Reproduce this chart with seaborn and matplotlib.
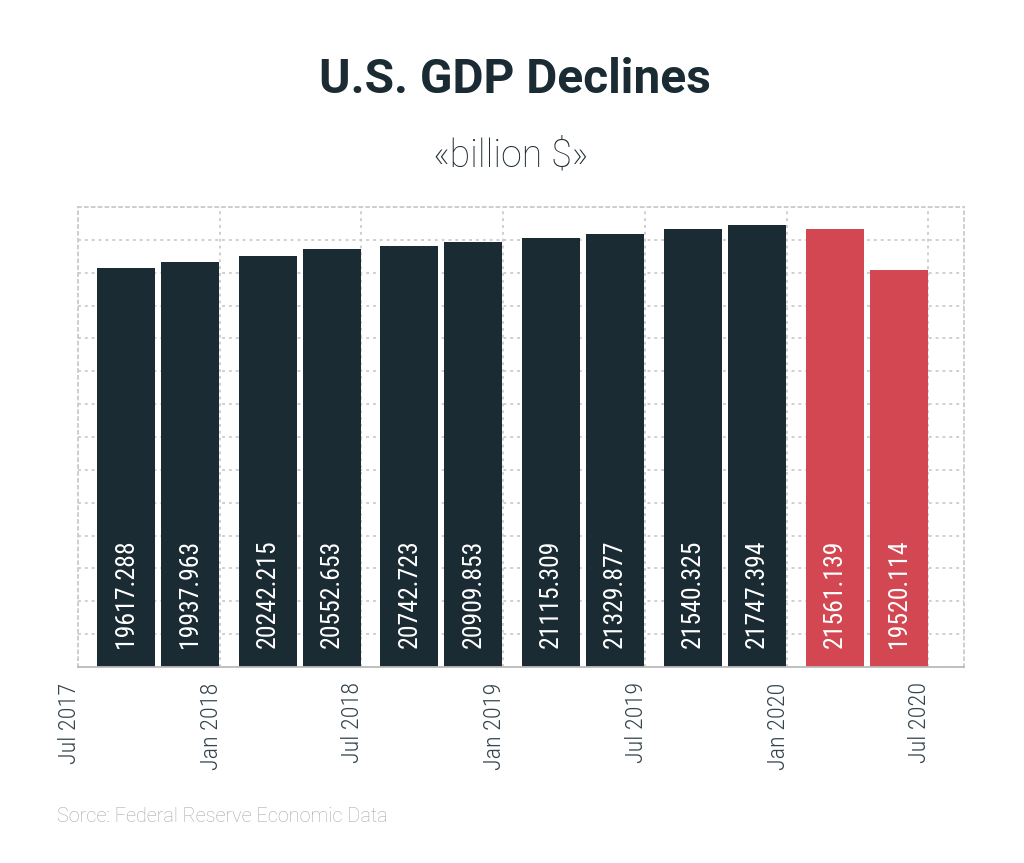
import matplotlib
matplotlib.use("Agg")
import matplotlib.pyplot as plt
import matplotlib.transforms as mtransforms
import seaborn as sns
import pandas as pd
import numpy as np

# ---- data ----
quarters = ["2017-07-01", "2017-10-01", "2018-01-01", "2018-04-01",
            "2018-07-01", "2018-10-01", "2019-01-01", "2019-04-01",
            "2019-07-01", "2019-10-01", "2020-01-01", "2020-04-01"]
gdp = [19617.288, 19937.963, 20242.215, 20552.653,
       20742.723, 20909.853, 21115.309, 21329.877,
       21540.325, 21747.394, 21561.139, 19520.114]
decline = [False] * 10 + [True, True]
tick_labels = ["Jul 2017", "Jan 2018", "Jul 2018", "Jan 2019",
               "Jul 2019", "Jan 2020", "Jul 2020"]

DARK = "#1b2b33"
RED = "#d34753"
GRID = "#cccccc"
TXT = "#34444c"
COND = ['Roboto Condensed', 'Roboto', 'DejaVu Sans']

df = pd.DataFrame({"quarter": quarters, "gdp": gdp, "decline": decline})
df["half"] = np.arange(len(df)) // 2
df["slot"] = np.where(np.arange(len(df)) % 2 == 0, "a", "b")

sns.set_theme(style="white")
plt.rcParams['font.family'] = ['Roboto', 'DejaVu Sans']

fig = plt.figure(figsize=(10.24, 8.63), dpi=100)
ax = fig.add_axes([78 / 1024, 1 - 667 / 863, (964 - 78) / 1024, (667 - 207) / 863])

sns.barplot(data=df, x="half", y="gdp", hue="slot", palette=[DARK, DARK],
            width=0.9033, gap=0.094, dodge=True, legend=False, errorbar=None,
            saturation=1, linewidth=0, ax=ax)

# recolor & label
for p in ax.patches:
    cx = p.get_x() + p.get_width() / 2
    h = int(round(cx))
    slot = 0 if cx < h else 1
    idx = 2 * h + slot
    if decline[idx]:
        p.set_facecolor(RED)
    ax.annotate(f"{gdp[idx]:.3f}", xy=(cx, 0), xytext=(0, 14),
                textcoords="offset points", ha="center", va="bottom",
                rotation=90, color="white", fontsize=18.5, family=COND)

y_top = 22640
ax.set_ylim(0, y_top)
ax.set_yticks(np.linspace(0, y_top, 15))
ax.set_yticklabels([])

x0 = -0.5646
ax.set_xlim(x0, 5.688)
ax.set_xticks([x0 + k for k in range(len(tick_labels))])
ax.set_xticklabels(tick_labels, rotation=90, ha="right", va="top",
                   fontsize=17.5, color=TXT, fontweight="light", family=COND)
ax.tick_params(axis="both", length=0)
ax.tick_params(axis="x", pad=11)
ax.set_xlabel("")
ax.set_ylabel("")

ax.grid(True, axis="both", linestyle=(0, (1.6, 2.2)), color=GRID, linewidth=1.3)
ax.set_axisbelow(True)
for side in ["left", "top", "right"]:
    ax.spines[side].set_linestyle((0, (1.6, 2.2)))
    ax.spines[side].set_color(GRID)
    ax.spines[side].set_linewidth(1.3)
ax.spines["bottom"].set_color("#bbbbbb")
ax.spines["bottom"].set_linewidth(1.3)

offset = mtransforms.ScaledTranslation(3 / 100, 0, fig.dpi_scale_trans)
for lab in ax.get_xticklabels():
    lab.set_transform(lab.get_transform() + offset)

fig.text(0.503, 1 - 93 / 863, "U.S. GDP Declines", ha="center", va="baseline",
         fontsize=34.5, fontweight="bold", color=DARK)
fig.text(511 / 1024, 1 - 167 / 863, "«billion $»", ha="center", va="baseline",
         fontsize=27, fontweight="light", color=DARK)
fig.text(57 / 1024, 1 - 822 / 863, "Sorce: Federal Reserve Economic Data",
         ha="left", va="baseline", fontsize=14.3, fontweight="light",
         color="#a8a8a8")

fig.savefig("out.png", dpi=100, facecolor="white")
